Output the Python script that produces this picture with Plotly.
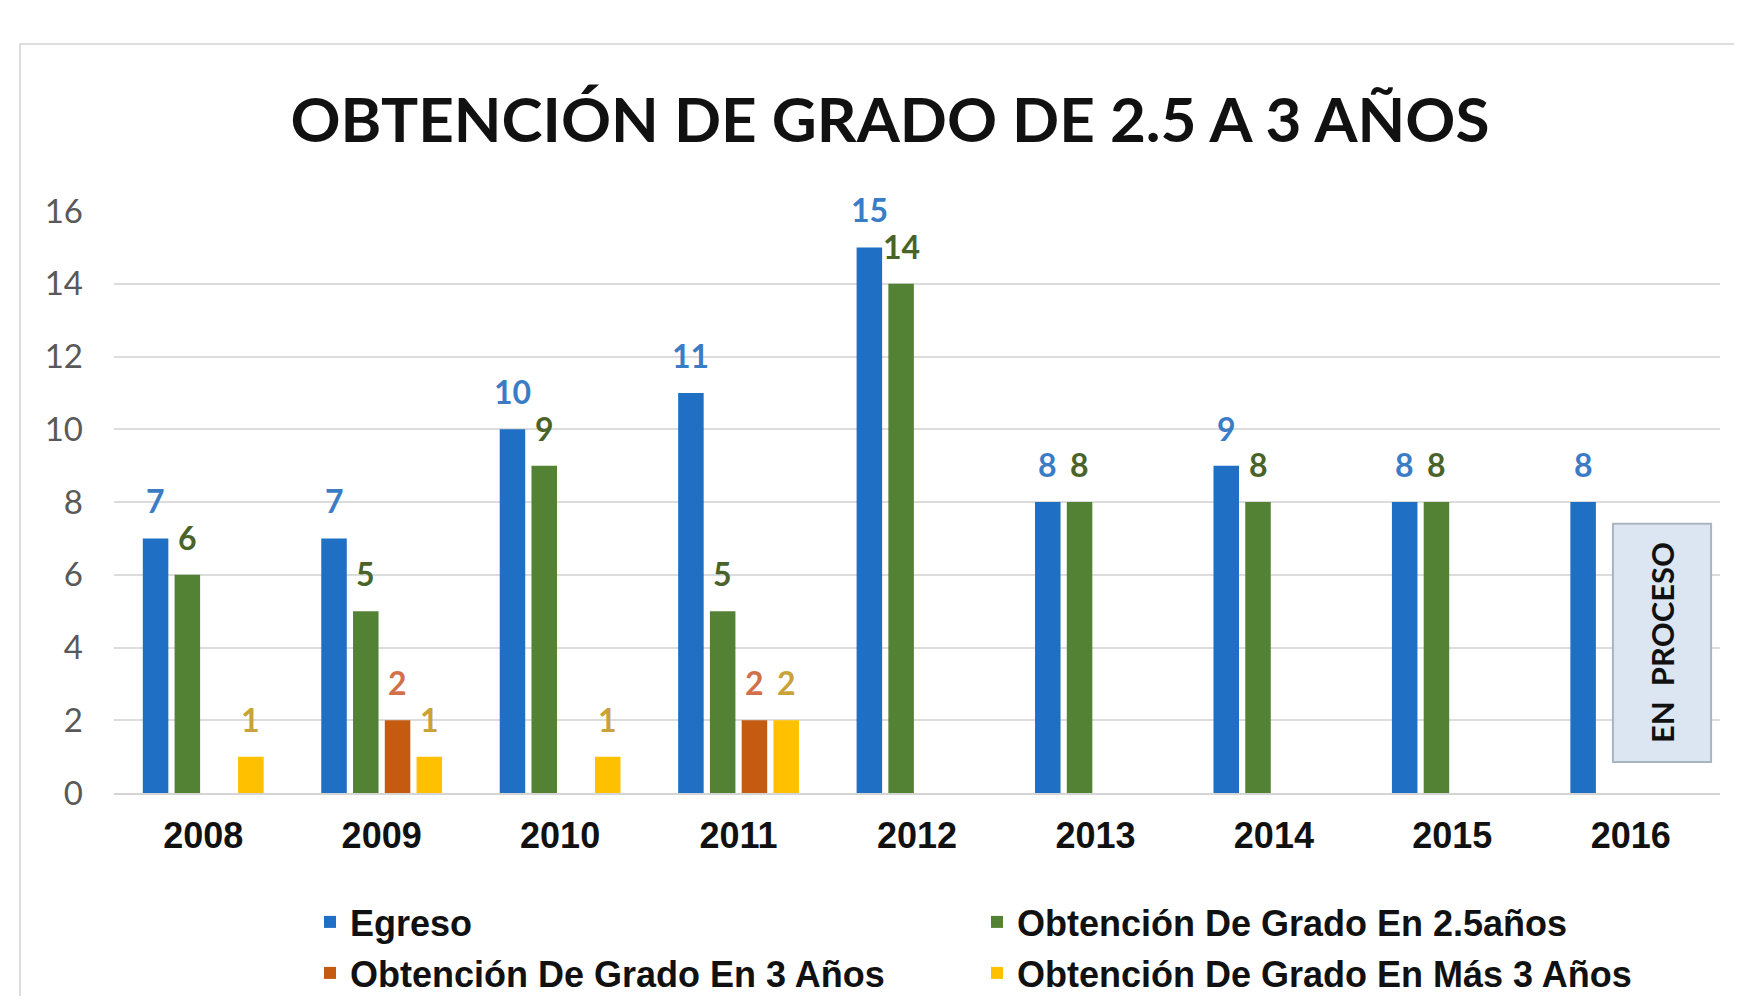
import plotly.graph_objects as go

years = ["2008", "2009", "2010", "2011", "2012", "2013", "2014", "2015", "2016"]
egreso = [7, 7, 10, 11, 15, 8, 9, 8, 8]
grado_25 = [6, 5, 9, 5, 14, 8, 8, 8, None]
grado_3 = [None, 2, None, 2, None, None, None, None, None]
grado_mas3 = [1, 1, 1, 2, None, None, None, None, None]
yticks = [0, 2, 4, 6, 8, 10, 12, 14, 16]

series = [
    ("Egreso", egreso, "#1F6FC5", "#3B7CC6"),
    ("Obtención De Grado En 2.5años", grado_25, "#548235", "#4A6328"),
    ("Obtención De Grado En 3 Años", grado_3, "#C55A11", "#D2704A"),
    ("Obtención De Grado En Más 3 Años", grado_mas3, "#FFC000", "#C9A23A"),
]

# page has an 8px body margin; figure coordinates are page coordinates minus 8
OFF = 8
W, H = 1742 - 2 * OFF, 1004 - 2 * OFF
L, R, T, B = 114 - OFF, W - (1720 - OFF), 211 - OFF, H - (793 - OFF)
pw, ph = W - L - R, H - T - B

slot = 0.178
bw = 0.143

fig = go.Figure()
legend_names = ["legend", "legend2", "legend3", "legend4"]
annotations = []
for k, (name, vals, col, lcol) in enumerate(series):
    center = (k - 1.5) * slot
    fig.add_trace(go.Bar(
        x=years, y=vals, name=name,
        marker=dict(color=col, line=dict(width=0)),
        width=bw, offset=center - bw / 2,
        legend=legend_names[k],
    ))
    for i, v in enumerate(vals):
        if v is None:
            continue
        annotations.append(dict(
            x=i + center, y=v, xref="x", yref="y",
            text=str(v), showarrow=False, yanchor="bottom", yshift=16,
            font=dict(family="Lato", size=32, color=lcol, weight="bold"),
        ))

# "EN PROCESO" box
box_x0, box_x1 = 7.9, 8.45
box_y0, box_y1 = 0.85, 7.4
shapes = [
    dict(type="rect", xref="paper", yref="paper",
         x0=(20 - OFF - L) / pw, x1=1.2, y0=-0.6, y1=(H - B - (44 - OFF)) / ph,
         line=dict(color="#DDDDDD", width=2), fillcolor="rgba(0,0,0,0)", layer="below"),
    dict(type="rect", xref="x", yref="y", x0=box_x0, x1=box_x1, y0=box_y0, y1=box_y1,
         line=dict(color="#A9B4C0", width=2), fillcolor="#DCE6F2", layer="above"),
]
annotations.append(dict(
    x=(box_x0 + box_x1) / 2, y=(box_y0 + box_y1) / 2, xref="x", yref="y",
    text="EN  PROCESO", textangle=-90, showarrow=False,
    font=dict(family="Lato", size=31, color="#111111", weight="bold"),
))

legfont = dict(family="Liberation Sans, Arial", size=36, color="#111111", weight="bold")
leg_pos = [(302, 914), (969, 914), (302, 965), (969, 965)]
legends = {}
for name, (lx, ly) in zip(legend_names, leg_pos):
    legends[name] = dict(
        xref="container", yref="container", x=lx / W, y=1 - ly / H,
        xanchor="left", yanchor="middle", orientation="h",
        font=legfont, bgcolor="rgba(0,0,0,0)", borderwidth=0,
    )

fig.update_layout(
    width=W, height=H,
    margin=dict(l=L, r=R, t=T, b=B, autoexpand=False),
    paper_bgcolor="white", plot_bgcolor="white",
    barmode="group",
    showlegend=True,
    title=dict(text="OBTENCIÓN DE GRADO DE 2.5 A 3 AÑOS",
               font=dict(family="Lato", size=62, color="#111111", weight="bold"),
               x=882 / W, xanchor="center", y=1 - 112 / H, yanchor="middle"),
    xaxis=dict(type="category", categoryorder="array", categoryarray=years,
               showgrid=False, ticks="", showline=True, linecolor="#D4D4D4", linewidth=2,
               tickfont=dict(family="Liberation Sans, Arial", size=36, color="#111111", weight="bold"),
               ticklabelstandoff=10, range=[-0.5, 8.5]),
    yaxis=dict(range=[0, 16], tickvals=yticks, showgrid=True, gridcolor="#DCDCDC", gridwidth=2,
               zeroline=False, showline=False, ticks="",
               tickfont=dict(family="Lato", size=33, color="#595959"),
               ticklabelstandoff=30),
    shapes=shapes,
    annotations=annotations,
    **legends,
)

fig.write_html("out.html")
